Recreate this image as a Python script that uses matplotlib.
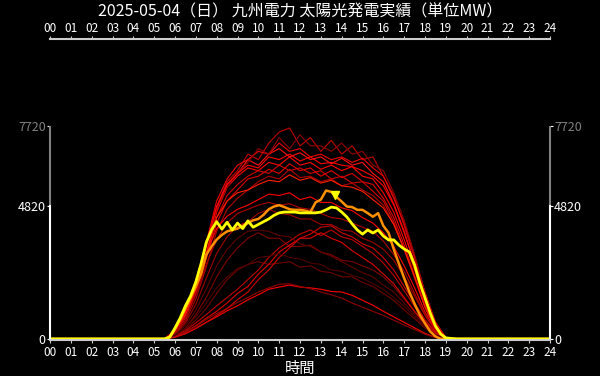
import numpy as np
import matplotlib
matplotlib.use("Agg")
import matplotlib.pyplot as plt

plt.rcParams['font.family'] = ['Noto Sans CJK JP', 'DejaVu Sans']

title = "2025-05-04（日） 九州電力 太陽光発電実績（単位MW）"
hour_labels = ["%02d" % h for h in range(25)]
yticks = [0, 4820, 7720]

# past days, half-hourly from 05:30 to 19:00 (MW)
t_half = np.arange(5.5, 19.01, 0.5)
past_days = [
    ("#c00000", [0,300,900,1900,3300,4800,5700,6100,6700,6500,7100,7500,7650,7000,7300,6800,7200,6700,7000,6500,6600,5900,5200,4100,2900,1600,550,40]),
    ("#ff0000", [0,250,850,1800,3100,4600,5500,5900,6200,6100,6400,6300,6600,6300,6400,6150,6300,6100,6250,5900,5800,5300,4600,3600,2500,1350,430,30]),
    ("#ff1010", [0,280,900,1950,3350,4700,5600,6000,6500,6300,6700,6900,6600,6750,6500,6600,6350,6550,6300,6400,6000,5700,4900,3900,2700,1500,520,40]),
    ("#e00000", [0,200,750,1650,2900,4200,5000,5400,5800,5900,6150,6000,6350,6100,6200,5900,6100,5850,6000,5700,5600,5100,4400,3400,2300,1250,380,20]),
    ("#f00000", [0,320,1000,2100,3500,5000,5800,6300,6500,6800,6700,7100,6800,6900,6600,6700,6500,6600,6400,6550,6200,5900,5100,4200,3000,1700,620,50]),
    ("#d00000", [0,230,800,1750,3000,4400,5200,5600,5900,6100,6000,6300,6100,6200,6000,6100,5800,5900,5650,5700,5350,5000,4250,3250,2200,1150,340,20]),
    ("#b00000", [0,190,650,1450,2600,3900,4700,5100,5400,5700,5900,5800,6150,5850,5900,5700,5800,5550,5650,5400,5200,4850,4150,3250,2250,1150,380,20]),
    ("#900000", [0,280,950,1950,3200,4700,5500,6000,6400,6900,6700,7300,6900,7400,7000,7000,6800,7100,6700,6800,6300,6100,5300,4300,3050,1650,530,40]),
    ("#ff2000", [0,260,880,1850,3100,4400,5000,5300,5400,5600,5750,5700,5950,5750,5850,5650,5750,5550,5500,5350,5050,4750,4150,3250,2250,1150,370,20]),
    ("#a00000", [0,150,580,1250,2200,3100,3700,4100,4250,4550,4700,4550,4500,4350,4350,4150,4150,3950,3900,3650,3500,3250,2850,2250,1550,850,280,10]),
    ("#800000", [0,100,380,880,1500,2250,2850,3300,3650,3850,3650,3650,3350,3350,3400,3150,3050,2850,2800,2650,2500,2250,1900,1450,980,530,190,10]),
    ("#700000", [0,100,330,680,1100,1650,2150,2500,2700,2800,2700,2750,2800,2600,2650,2450,2400,2250,2250,2050,1900,1650,1400,1050,730,390,140,0]),
    ("#e00000", [0,80,240,480,750,1000,1300,1650,1900,2350,2700,3150,3400,3650,3650,3850,3650,3500,3200,2950,2700,2350,2000,1500,1000,540,190,10]),
    ("#c00000", [0,100,290,580,880,1200,1500,1800,2150,2500,2950,3300,3550,3800,3950,3750,3950,3700,3600,3350,3100,2750,2300,1750,1180,630,240,10]),
    ("#ff0000", [0,70,190,380,600,800,1020,1200,1420,1600,1800,1880,1950,1880,1850,1800,1720,1700,1580,1400,1220,1000,800,600,400,200,60,0]),
    ("#900000", [0,80,240,450,700,920,1100,1320,1500,1700,1850,1980,2000,1900,1820,1700,1600,1480,1300,1150,1000,850,680,500,340,170,50,0]),
    ("#600000", [0,150,480,1050,1800,2650,3250,3650,3900,3950,3900,3750,3700,3450,3350,3150,3000,2800,2600,2400,2250,1950,1700,1300,880,480,150,0]),
    ("#d00000", [0,60,190,380,600,850,1100,1420,1700,2150,2500,2950,3300,3650,3800,4050,4100,3850,3700,3450,3300,2950,2500,1900,1300,700,240,10]),
    ("#ff0000", [0,280,950,1950,3100,4000,4450,4700,4850,5050,5250,5200,5300,5050,5150,4950,4950,4750,4650,4400,4200,3850,3350,2650,1850,980,310,20]),
    ("#b00000", [0,240,780,1600,2700,3600,4200,4550,4700,4850,4950,4850,4900,4750,4700,4550,4400,4350,4200,4050,3900,3550,3050,2450,1650,880,290,10]),
    ("#500000", [0,120,390,800,1300,1850,2250,2550,2700,2950,3000,3100,2950,2900,2750,2700,2500,2450,2300,2200,2000,1800,1500,1180,790,440,150,0]),
    ("#ff0000", [0,300,1000,2050,3400,4800,5600,6000,6300,6200,6600,6500,6700,6450,6600,6350,6400,6300,6250,6100,5900,5550,4850,3850,2750,1550,480,40]),
]

# yesterday and today, 15-minute from 05:30 to 19:00 (MW)
t_q = np.arange(5.5, 19.01, 0.25)
yesterday = [0,60,360,700,1100,1500,1900,2350,3050,3350,3600,3770,3900,3950,4000,4100,
             4200,4300,4350,4500,4700,4800,4850,4780,4700,4680,4680,4650,4600,4950,5050,5380,
             5330,5150,4980,4800,4780,4680,4680,4560,4430,4560,4100,3850,3250,2720,2200,1700,
             1270,870,560,270,90,0,0]
today = [0,70,400,760,1200,1560,2070,2720,3500,3950,4250,3980,4230,3950,4200,4000,
         4280,4050,4150,4250,4350,4480,4570,4600,4600,4600,4570,4570,4570,4570,4600,4680,
         4780,4750,4600,4420,4170,3950,3800,3950,3840,3950,3730,3590,3590,3400,3260,3150,
         2680,2030,1490,940,470,180,36]
marker_x, marker_y = 13.68, 5230

t_full_pre = np.arange(0, 5.5, 0.5)
t_full_post = np.arange(19.5, 24.01, 0.5)


def pad(t, v):
    tt = np.concatenate([t_full_pre, t, t_full_post])
    vv = np.concatenate([np.zeros(len(t_full_pre)), v, np.zeros(len(t_full_post))])
    return tt, vv


fig = plt.figure(figsize=(6, 3.76), dpi=100, facecolor='black')
ax = fig.add_axes([50/600, 1-340/376, 500/600, 214/376])
ax.set_facecolor('black')

for col, vals in past_days:
    tt, vv = pad(t_half, vals)
    ax.plot(tt, vv, color=col, lw=0.8)

tt, vv = pad(t_q, yesterday)
ax.plot(tt, vv, color='#ff9000', lw=1.8)
tt, vv = pad(t_q, today)
ax.plot(tt, vv, color='#ffff00', lw=2.0)
ax.plot([marker_x], [marker_y], marker='v', color='#ffff00', ms=6, ls='none')

ax.set_xlim(0, 24)
ax.set_ylim(-40, 7720)

gray = '#cccccc'
ax.set_xticks(range(25))
ax.set_xticklabels(hour_labels)
ax.tick_params(axis='x', colors=gray, labelcolor='white', labelsize=8.5, length=2, pad=2)
ax.set_xlabel("時間", color='white', fontsize=11, labelpad=1)

ax.set_yticks(yticks)
ax.set_yticklabels([str(v) for v in yticks])
ax.tick_params(axis='y', colors='white', labelsize=9, length=2, pad=1,
               right=True, labelright=True)
for tl in ax.yaxis.get_major_ticks():
    if tl.get_loc() == 7720:
        tl.label1.set_color('#808080')
        tl.label2.set_color('#808080')
        tl.tick1line.set_color('#808080')
        tl.tick2line.set_color('#808080')

ax.spines['top'].set_visible(False)
ax.spines['bottom'].set_color(gray)
ax.spines['bottom'].set_linewidth(1.5)
for side in ['left', 'right']:
    ax.spines[side].set_color('white')
    ax.spines[side].set_linewidth(1.5)
    ax.spines[side].set_bounds(0, 4820)
ax.vlines([0, 24], 4820, 7720, colors='#808080', lw=1.5, clip_on=False)

top = ax.secondary_xaxis(301/214)
top.set_xticks(range(25))
top.set_xticklabels(hour_labels)
top.tick_params(colors=gray, labelcolor='white', labelsize=8.5, length=2, pad=1)
top.spines['top'].set_color(gray)
top.spines['top'].set_linewidth(1.5)

fig.text(0.5, 1-12/376, title, color='white', fontsize=11.5, ha='center', va='center')

fig.savefig('out.png', dpi=100, facecolor='black')
